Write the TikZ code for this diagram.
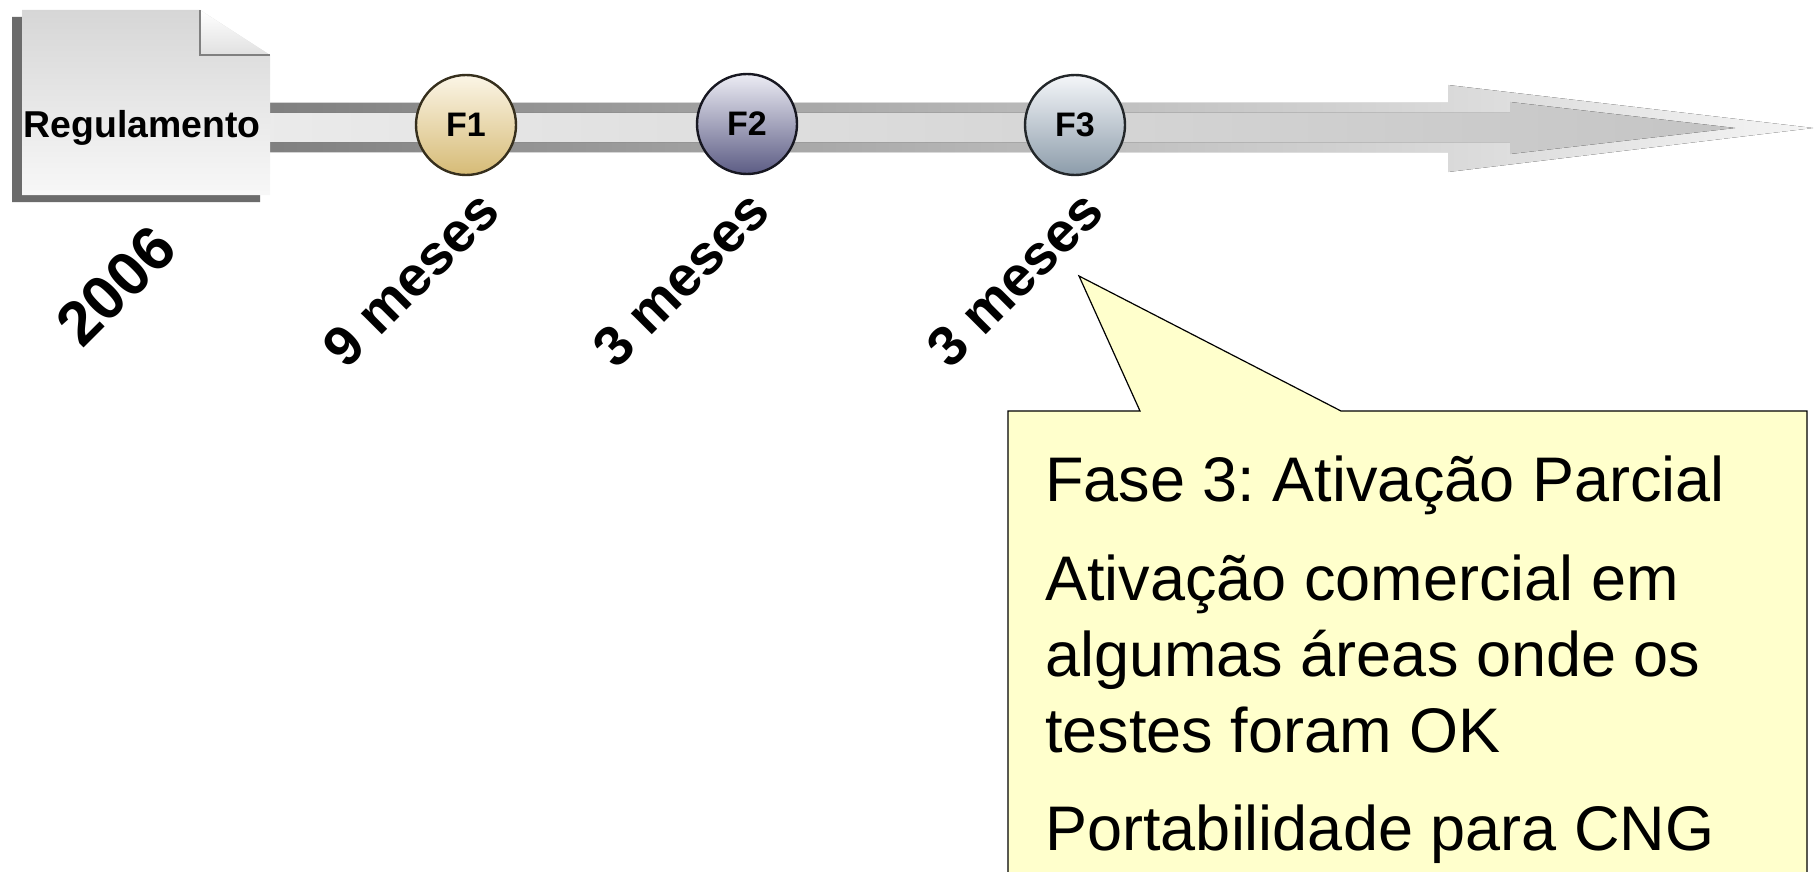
\documentclass[tikz,border=0pt]{standalone}
\usepackage{fontspec}
\setmainfont{Liberation Sans}
\usetikzlibrary{positioning}
\definecolor{notaFill}{HTML}{FFFFCC}
\definecolor{fumTop}{HTML}{FBF5E6}
\definecolor{fumBot}{HTML}{D6BB76}
\definecolor{fdoisTop}{HTML}{ECECF4}
\definecolor{fdoisBot}{HTML}{5C5C84}
\definecolor{ftresTop}{HTML}{F4F6F9}
\definecolor{ftresBot}{HTML}{8C9CAA}
\frenchspacing

\begin{document}
\begin{tikzpicture}[x=0.5pt,y=-0.5pt,
    fase/.style={circle,draw=black!80,line width=1.2pt,minimum size=50pt,inner sep=0pt,font=\fontsize{17}{17}\selectfont\bfseries},
    prazo/.style={rotate=45,inner sep=0pt,font=\fontsize{28}{28}\selectfont\bfseries}]
    \useasboundingbox (0,0) rectangle (1814,872);

    \fill[left color=black!50,middle color=black!28,right color=black!4] (270,103) -- (1448,103) -- (1448,85) -- (1813,128) -- (1448,172) -- (1448,152) -- (270,152) -- cycle;
    \fill[left color=black!8,right color=black!23] (270,113) -- (1510,113) -- (1510,102) -- (1735,128) -- (1510,154) -- (1510,142) -- (270,142) -- cycle;

    \fill[black!58] (12,17) -- (190,17) -- (260,62) -- (260,202) -- (12,202) -- cycle;
    \shade[top color=black!16,bottom color=black!3] (22,10) -- (200,10) -- (270,55) -- (270,195) -- (22,195) -- cycle;
    \shade[top color=white,bottom color=black!12] (200,10) -- (200,55) -- (270,55) -- cycle;
    \draw[black!50,line width=0.8pt] (200,10) -- (200,55) -- (270,55);
    \node[anchor=base,inner sep=0pt,font=\fontsize{18.7}{18.7}\selectfont\bfseries] (reg) at (142,138) {Regulamento};

    \node[fase,draw=black!75!fumBot,top color=fumTop,bottom color=fumBot] (F1) at (466,125) {F1};
    \node[fase,draw=black!75!fdoisBot,top color=fdoisTop,bottom color=fdoisBot] (F2) at (747,124) {F2};
    \node[fase,draw=black!75!ftresBot,top color=ftresTop,bottom color=ftresBot] (F3) at (1075,125) {F3};

    \node[prazo,font=\fontsize{31}{31}\selectfont\bfseries] (ano) at (116,286) {2006};
    \node[prazo] (m1) at (411,279) {9 meses};
    \node[prazo] (m2) at (681,279) {3 meses};
    \node[prazo] (m3) at (1015,279) {3 meses};

    \filldraw[fill=notaFill,draw=black,line width=0.6pt] (1008,873) -- (1008,411) -- (1140,411) -- (1079,276) -- (1341,411) -- (1807,411) -- (1807,873);
    \node[anchor=base west,align=left,inner sep=0pt,font=\fontsize{31.5}{38}\selectfont] (fase3) at (1045,850)
        {Fase 3: Ativação Parcial\\[11.5pt]Ativação comercial em\\algumas áreas onde os\\testes foram OK\\[11pt]Portabilidade para CNG};
\end{tikzpicture}
\end{document}
